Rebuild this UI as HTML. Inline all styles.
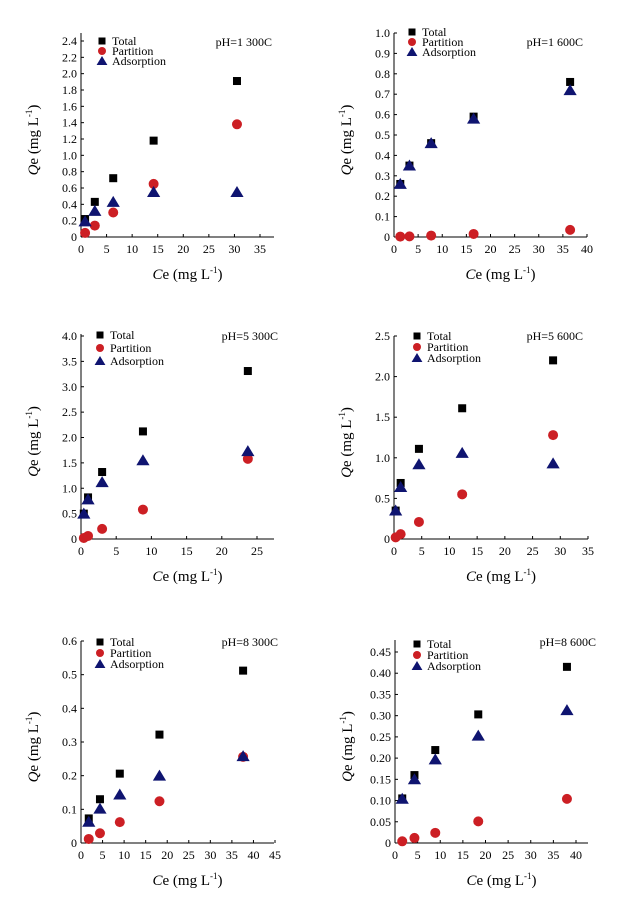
<!DOCTYPE html>
<html><head><meta charset="utf-8"><style>
html,body{margin:0;padding:0;background:#fff;}
svg{display:block;font-family:"Liberation Serif",serif;}
</style></head><body>
<svg id="c" width="626" height="901" viewBox="0 0 626 901" xmlns="http://www.w3.org/2000/svg"></svg>
<script>
// ---- data ----
const p1X=[0.8,2.7,6.3,14.2,30.5];
const p1Total=[0.22,0.43,0.72,1.18,1.91];
const p1Part=[0.05,0.14,0.30,0.65,1.38];
const p1Ads=[0.19,0.32,0.43,0.55,0.55];
const p1YTicks=["0","0.2","0.4","0.6","0.8","1.0","1.2","1.4","1.6","1.8","2.0","2.2","2.4"];
const p1XTicks=["0","5","10","15","20","25","30","35"];

const p2X=[1.3,3.2,7.7,16.5,36.5];
const p2Total=[0.26,0.35,0.46,0.59,0.76];
const p2Part=[0.002,0.003,0.007,0.015,0.035];
const p2Ads=[0.26,0.35,0.46,0.58,0.72];
const p2YTicks=["0","0.1","0.2","0.3","0.4","0.5","0.6","0.7","0.8","0.9","1.0"];
const p2XTicks=["0","5","10","15","20","25","30","35","40"];

const p3X=[0.4,1.0,3.0,8.8,23.7];
const p3Total=[0.5,0.82,1.32,2.12,3.31];
const p3Part=[0.02,0.06,0.2,0.58,1.58];
const p3Ads=[0.5,0.78,1.12,1.55,1.73];
const p3YTicks=["0","0.5","1.0","1.5","2.0","2.5","3.0","3.5","4.0"];
const p3XTicks=["0","5","10","15","20","25"];

const p4X=[0.3,1.2,4.5,12.3,28.7];
const p4Total=[0.35,0.69,1.11,1.61,2.20];
const p4Part=[0.02,0.06,0.21,0.55,1.28];
const p4Ads=[0.35,0.64,0.92,1.06,0.93];
const p4YTicks=["0","0.5","1.0","1.5","2.0","2.5"];
const p4XTicks=["0","5","10","15","20","25","30","35"];

const p5X=[1.8,4.4,9.0,18.2,37.6];
const p5Total=[0.073,0.13,0.206,0.322,0.512];
const p5Part=[0.012,0.029,0.062,0.124,0.256];
const p5Ads=[0.063,0.102,0.144,0.2,0.258];
const p5YTicks=["0","0.1","0.2","0.3","0.4","0.5","0.6"];
const p5XTicks=["0","5","10","15","20","25","30","35","40","45"];

const p6X=[1.6,4.3,8.9,18.4,38.0];
const p6Total=[0.105,0.16,0.219,0.303,0.415];
const p6Part=[0.004,0.012,0.024,0.051,0.104];
const p6Ads=[0.104,0.150,0.197,0.253,0.313];
const p6YTicks=["0","0.05","0.10","0.15","0.20","0.25","0.30","0.35","0.40","0.45"];
const p6XTicks=["0","5","10","15","20","25","30","35","40"];

const NS="http://www.w3.org/2000/svg";
const svg=document.getElementById('c');
function mk(tag,attrs,parent){const e=document.createElementNS(NS,tag);for(const k in attrs)e.setAttribute(k,attrs[k]);(parent||svg).appendChild(e);return e;}

const panels=[
 {id:'ph1-300',title:'pH=1 300C',x:p1X,t:p1Total,p:p1Part,a:p1Ads,yt:p1YTicks,xt:p1XTicks,x0:81,xr:274,xTickMax:35,xTickPx:260,y0:237,yTop:41,yAxisTop:33,lx:102,ly:41,lstep:10,phx:272,phy:46},
 {id:'ph1-600',title:'pH=1 600C',x:p2X,t:p2Total,p:p2Part,a:p2Ads,yt:p2YTicks,xt:p2XTicks,x0:394,xr:587,xTickMax:40,xTickPx:587,y0:237,yTop:33,yAxisTop:33,lx:412,ly:32,lstep:10,phx:583,phy:46},
 {id:'ph5-300',title:'pH=5 300C',x:p3X,t:p3Total,p:p3Part,a:p3Ads,yt:p3YTicks,xt:p3XTicks,x0:81,xr:274,xTickMax:25,xTickPx:257,y0:539,yTop:336,yAxisTop:334,lx:100,ly:335,lstep:13,phx:278,phy:340},
 {id:'ph5-600',title:'pH=5 600C',x:p4X,t:p4Total,p:p4Part,a:p4Ads,yt:p4YTicks,xt:p4XTicks,x0:394,xr:588,xTickMax:35,xTickPx:588,y0:539,yTop:336,yAxisTop:336,lx:417,ly:336,lstep:11,phx:583,phy:340},
 {id:'ph8-300',title:'pH=8 300C',x:p5X,t:p5Total,p:p5Part,a:p5Ads,yt:p5YTicks,xt:p5XTicks,x0:81,xr:274,xTickMax:45,xTickPx:275,y0:843,yTop:641,yAxisTop:641,lx:100,ly:642,lstep:11,phx:278,phy:646},
 {id:'ph8-600',title:'pH=8 600C',x:p6X,t:p6Total,p:p6Part,a:p6Ads,yt:p6YTicks,xt:p6XTicks,x0:395,xr:588,xTickMax:40,xTickPx:576,y0:843,yTop:652,yAxisTop:640,lx:417,ly:644,lstep:11,phx:596,phy:646}
];

function square(g,cx,cy,s){return mk('rect',{x:cx-s/2,y:cy-s/2,width:s,height:s,fill:'#000'},g);}
function circle(g,cx,cy,r){return mk('circle',{cx:cx,cy:cy,r:r,fill:'#cc1f24'},g);}
function tri(g,cx,cy,s){return mk('polygon',{points:`${cx},${cy-s*0.55} ${cx-s*0.6},${cy+s*0.45} ${cx+s*0.6},${cy+s*0.45}`,fill:'#0f1470'},g);}

panels.forEach(P=>{
 const g=mk('g',{});
 
 
 const yMax=parseFloat(P.yt[P.yt.length-1]);
 const xMax=parseFloat(P.xt[P.xt.length-1]);
 const sx=v=>P.x0+v*(P.xTickPx-P.x0)/P.xTickMax;
 const sy=v=>P.y0-v*(P.y0-P.yTop)/yMax;
 // axes
 const ya=mk('line',{x1:P.x0,y1:P.yAxisTop,x2:P.x0,y2:P.y0,stroke:'#000','stroke-width':1},g);
 
 const xa=mk('line',{x1:P.x0,y1:P.y0,x2:P.xr,y2:P.y0,stroke:'#000','stroke-width':1},g);
 
 P.yt.forEach(l=>{const v=parseFloat(l),y=sy(v);
  mk('line',{x1:P.x0,y1:y,x2:P.x0+3,y2:y,stroke:'#000'},g);
  const t=mk('text',{x:P.x0-4,y:y+4,'font-size':12,'text-anchor':'end',fill:'#000'},g);t.textContent=l;
  });
 P.xt.forEach(l=>{const v=parseFloat(l),x=sx(v);
  mk('line',{x1:x,y1:P.y0,x2:x,y2:P.y0-3,stroke:'#000'},g);
  const t=mk('text',{x:x,y:P.y0+16,'font-size':12,'text-anchor':'middle',fill:'#000'},g);t.textContent=l;
  });
 // titles
 const xt=mk('text',{x:(P.x0+P.xr)/2+10,y:P.y0+42,'font-size':15,'text-anchor':'middle',fill:'#000'},g);
 xt.innerHTML='<tspan font-style="italic">C</tspan>e (mg L<tspan font-size="9" dy="-6">-1</tspan><tspan dy="6">)</tspan>';
 
 const cy=(P.yAxisTop+P.y0)/2+5, cx=P.x0-43;
 const yt=mk('text',{x:cx,y:cy,'font-size':15,'text-anchor':'middle',fill:'#000',transform:`rotate(-90 ${cx} ${cy})`},g);
 yt.innerHTML='<tspan font-style="italic">Q</tspan>e (mg L<tspan font-size="9" dy="-6">-1</tspan><tspan dy="6">)</tspan>';
 
 const ph=mk('text',{x:P.phx,y:P.phy,'font-size':12,'text-anchor':'end',fill:'#000'},g);ph.textContent=P.title;
 
 // legend
 const names=['Total','Partition','Adsorption'];
 names.forEach((n,i)=>{const ly=P.ly+i*P.lstep;
  const lg=mk('g',{},g);
  
  
  if(i==0)square(lg,P.lx,ly,7);else if(i==1)circle(lg,P.lx,ly,4);else tri(lg,P.lx,ly,9);
  const t=mk('text',{x:P.lx+10,y:ly+4,'font-size':12,fill:'#000'},lg);t.textContent=n;});
 // series
 P.x.forEach((xv,i)=>{
  const m=square(g,sx(xv),sy(P.t[i]),8);
  });
 P.x.forEach((xv,i)=>{
  const m=circle(g,sx(xv),sy(P.p[i]),5);
  });
 P.x.forEach((xv,i)=>{
  const m=tri(g,sx(xv),sy(P.a[i]),11);
  });
});
</script>
</body></html>
